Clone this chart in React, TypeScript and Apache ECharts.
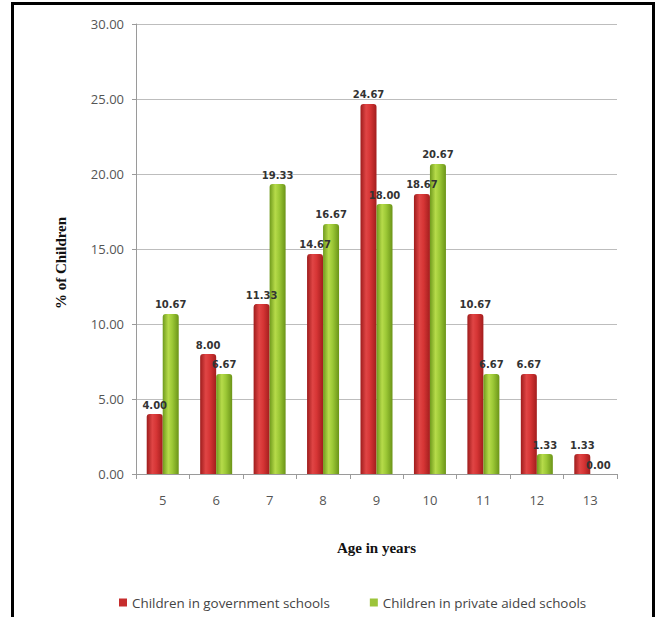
import React, { useEffect, useRef } from "react";
import * as echarts from "echarts";

const ages = ["5", "6", "7", "8", "9", "10", "11", "12", "13"];
const governmentSchools = [4.0, 8.0, 11.33, 14.67, 24.67, 18.67, 10.67, 6.67, 1.33];
const privateAidedSchools = [10.67, 6.67, 19.33, 16.67, 18.0, 20.67, 6.67, 1.33, 0.0];
const seriesNames = ["Children in government schools", "Children in private aided schools"];

const redFill = new echarts.graphic.LinearGradient(0, 0, 1, 0, [
  { offset: 0, color: "#9e1c1c" },
  { offset: 0.35, color: "#e04545" },
  { offset: 0.6, color: "#d63535" },
  { offset: 1, color: "#a31d1d" },
]);
const greenFill = new echarts.graphic.LinearGradient(0, 0, 1, 0, [
  { offset: 0, color: "#6f9a1c" },
  { offset: 0.35, color: "#b6db4a" },
  { offset: 0.6, color: "#9cc836" },
  { offset: 1, color: "#6b9418" },
]);

const labelStyle = {
  show: true,
  position: "top" as const,
  distance: 4,
  fontFamily: "DejaVu Sans",
  fontSize: 10,
  fontWeight: "bold" as const,
  color: "#333333",
  formatter: (p: any) => Number(p.value).toFixed(2),
};

export default function App() {
  const ref = useRef<HTMLDivElement>(null);

  useEffect(() => {
    if (!ref.current) return;
    const chart = echarts.init(ref.current, undefined, { renderer: "svg" });
    chart.setOption({
      animation: false,
      backgroundColor: "#ffffff",
      textStyle: { fontFamily: "Open Sans" },
      grid: { left: 136, right: 40, top: 24, bottom: 143 },
      legend: {
        left: 114,
        top: 591,
        itemWidth: 8,
        itemHeight: 8,
        itemGap: 40,
        icon: "rect",
        textStyle: { fontFamily: "Open Sans", fontSize: 13.4, color: "#444444" },
        data: [
          { name: seriesNames[0], itemStyle: { color: "#c62d2d" } },
          { name: seriesNames[1], itemStyle: { color: "#9cc43a" } },
        ],
      },
      xAxis: {
        type: "category",
        data: ages,
        name: "Age in years",
        nameLocation: "middle",
        nameGap: 66,
        nameTextStyle: { fontFamily: "Liberation Serif", fontWeight: "bold", fontSize: 15, color: "#111111" },
        axisLine: { lineStyle: { color: "#9a9a9a" } },
        axisTick: { show: true, length: 5, lineStyle: { color: "#9a9a9a" } },
        axisLabel: { fontFamily: "Open Sans", fontSize: 13, color: "#555555", margin: 19 },
      },
      yAxis: {
        type: "value",
        min: 0,
        max: 30,
        interval: 5,
        axisLine: { show: true, lineStyle: { color: "#9a9a9a" } },
        axisTick: { show: true, length: 4, lineStyle: { color: "#9a9a9a" } },
        axisLabel: {
          fontFamily: "Open Sans",
          fontSize: 13,
          color: "#555555",
          margin: 12,
          formatter: (v: number) => v.toFixed(2),
        },
        splitLine: { lineStyle: { color: "#bdbdbd" } },
      },
      series: [
        {
          name: seriesNames[0],
          type: "bar",
          data: governmentSchools,
          barWidth: 16,
          barGap: "0%",
          itemStyle: { color: redFill, borderRadius: [3, 3, 0, 0] },
          label: labelStyle,
        },
        {
          name: seriesNames[1],
          type: "bar",
          data: privateAidedSchools,
          barWidth: 16,
          itemStyle: { color: greenFill, borderRadius: [3, 3, 0, 0] },
          label: labelStyle,
        },
      ],
      graphic: [
        {
          type: "text",
          x: 61,
          y: 263,
          rotation: Math.PI / 2,
          style: {
            text: "% of Children",
            fontFamily: "Liberation Serif",
            fontWeight: "bold",
            fontSize: 15,
            fill: "#111111",
            align: "center",
            verticalAlign: "middle",
          },
        },
        {
          type: "rect",
          shape: { x: 12.5, y: 3.5, width: 641, height: 630 },
          style: { fill: "none", stroke: "#000000", lineWidth: 3 },
          silent: true,
        },
      ],
    });
    return () => chart.dispose();
  }, []);

  return <div ref={ref} style={{ width: 657, height: 617, position: "absolute", left: 0, top: 0 }} />;
}
